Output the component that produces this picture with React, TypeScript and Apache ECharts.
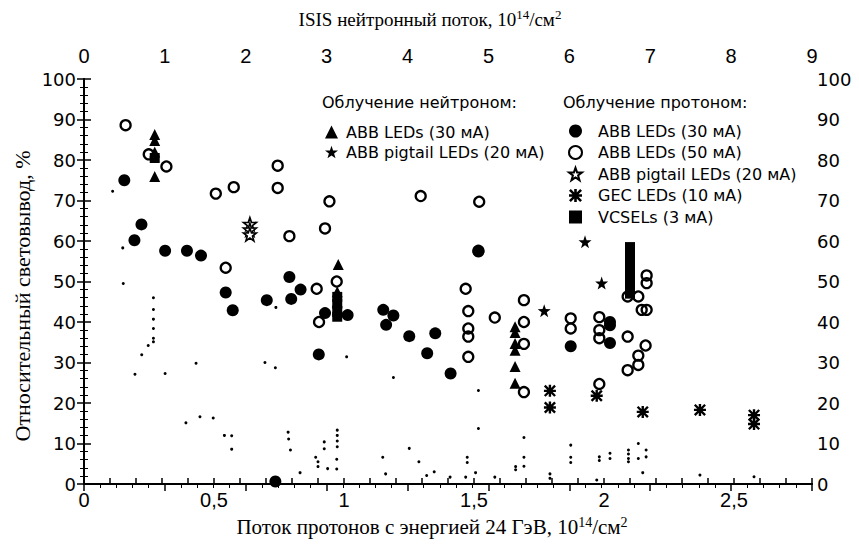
import React, { useEffect, useRef } from 'react';
import * as echarts from 'echarts';

// ---- Data (x: proton fluence 10^14/cm^2, y: relative light output %) ----
const neutronLed30: number[][] = [
  [0.272, 86.3], [0.272, 84.8], [0.272, 82.0], [0.272, 75.9], [0.978, 54.2],
  [0.974, 47.5], [0.974, 45.0], [0.974, 43.0], [1.658, 38.8], [1.658, 37.4],
  [1.658, 34.7], [1.658, 33.0], [1.658, 29.0], [1.658, 24.9],
];
const neutronPigtail20: number[][] = [[1.927, 59.8], [1.991, 49.6], [1.77, 42.8]];
const protonLed30: number[][] = [
  [0.155, 75.0], [0.221, 64.1], [0.194, 60.2], [0.312, 57.6], [0.396, 57.6],
  [0.45, 56.4], [0.545, 47.3], [0.572, 42.9], [0.703, 45.4], [0.79, 51.1],
  [0.797, 45.7], [0.833, 48.0], [0.927, 42.2], [0.903, 32.0], [1.014, 41.7],
  [1.151, 43.0], [1.19, 41.6], [1.162, 39.3], [1.251, 36.5], [1.351, 37.2],
  [1.32, 32.3], [1.41, 27.3], [1.517, 57.4], [1.872, 34.0], [2.023, 40.0],
  [2.023, 39.2], [2.023, 34.8], [0.736, 0.6],
];
const protonLed50: number[][] = [
  [0.16, 88.6], [0.249, 81.4], [0.317, 78.4], [0.507, 71.7], [0.576, 73.3],
  [0.745, 78.6], [0.745, 73.1], [0.944, 69.8], [0.927, 63.1], [0.79, 61.2],
  [0.545, 53.4], [0.895, 48.2], [0.904, 40.0], [0.972, 50.0], [1.295, 71.1],
  [1.52, 69.7], [1.517, 57.6], [1.468, 48.2], [1.478, 42.7], [1.478, 38.4],
  [1.478, 36.4], [1.478, 31.4], [1.58, 41.1], [1.692, 45.4], [1.692, 40.0],
  [1.692, 34.6], [1.692, 22.7], [1.872, 40.9], [1.872, 38.4], [1.982, 41.2],
  [1.982, 38.0], [1.982, 36.0], [1.982, 24.7], [2.091, 46.3], [2.091, 36.4],
  [2.091, 28.1], [2.132, 46.3], [2.132, 31.7], [2.132, 29.4], [2.145, 43.0],
  [2.164, 43.0], [2.164, 51.5], [2.164, 49.6], [2.16, 34.2],
];
const protonPigtail20: number[][] = [[0.638, 64.2], [0.638, 62.8], [0.638, 61.6]];
const gecLed10: number[][] = [
  [1.792, 23.0], [1.792, 18.9], [1.972, 21.8], [2.149, 17.8], [2.369, 18.3],
  [2.577, 17.0], [2.577, 14.8],
];
const vcsel3: number[][] = [
  [2.1, 58.5], [2.1, 57.5], [2.1, 56.5], [2.1, 55.5], [2.1, 54.5], [2.1, 53.5],
  [2.1, 52.5], [2.1, 51.5], [2.1, 50.5], [2.1, 48.7], [2.1, 47.7], [2.1, 47.0],
  [0.974, 46.2], [0.974, 44.5], [0.974, 42.5], [0.974, 41.3], [0.272, 80.5],
];
const smallDots: number[][] = [
  [0.11, 72.3], [0.149, 58.3], [0.151, 49.5], [0.267, 46.0], [0.267, 43.1],
  [0.267, 40.7], [0.267, 38.4], [0.267, 36.0], [0.267, 35.1], [0.247, 34.2],
  [0.222, 31.9], [0.196, 27.1], [0.312, 27.3], [0.431, 29.8], [0.738, 43.6],
  [0.696, 30.0], [0.736, 28.7], [1.01, 31.4], [1.19, 26.3], [1.517, 23.1],
  [1.517, 13.7], [0.392, 15.1], [0.446, 16.6], [0.497, 16.3], [0.54, 12.0],
  [0.568, 11.9], [0.568, 8.6], [0.785, 12.8], [0.787, 11.1], [0.794, 8.4],
  [0.831, 2.8], [0.891, 6.6], [0.9, 5.5], [0.9, 4.3], [0.924, 10.4],
  [0.924, 8.7], [0.937, 3.8], [0.974, 13.3], [0.974, 12.0], [0.974, 10.6],
  [0.974, 9.2], [0.972, 6.1], [0.972, 3.7], [1.149, 6.6], [1.16, 2.5],
  [1.251, 8.8], [1.288, 5.5], [1.318, 2.1], [1.347, 3.0], [1.408, 1.7],
  [1.468, 1.7], [1.474, 6.6], [1.474, 5.3], [1.506, 2.8], [1.58, 1.7],
  [1.66, 4.3], [1.66, 3.5], [1.692, 6.6], [1.692, 4.4], [1.692, 11.5],
  [1.792, 2.5], [1.792, 1.4], [1.872, 9.6], [1.872, 6.6], [1.872, 5.3],
  [1.972, 1.0], [1.982, 6.7], [1.982, 5.8], [2.023, 7.6], [2.023, 6.3],
  [2.094, 8.4], [2.094, 7.4], [2.094, 6.3], [2.094, 5.5], [2.132, 10.0],
  [2.132, 6.3], [2.162, 8.4], [2.162, 6.7], [2.149, 2.8], [2.369, 2.2],
  [2.577, 1.8],
];

const titleBottom = 'Поток протонов с энергией 24 ГэВ, 10{sup|14}/см{sup|2}';
const titleTop = 'ISIS нейтронный поток, 10{sup|14}/см{sup|2}';
const titleLeft = 'Относительный световывод, %';
const headerNeutron = 'Облучение нейтроном:';
const headerProton = 'Облучение протоном:';

const legendNames: Record<string, string> = {
  n1: 'ABB LEDs (30 мА)',
  n2: 'ABB pigtail LEDs (20 мА)',
  p1: 'ABB LEDs (30 мА)',
  p2: 'ABB LEDs (50 мА)',
  p3: 'ABB pigtail LEDs (20 мА)',
  p4: 'GEC LEDs (10 мА)',
  p5: 'VCSELs (3 мА)',
};

const STAR =
  'path://M10,0 L12.35,6.76 L19.51,6.91 L13.8,11.24 L15.88,18.09 L10,14 L4.12,18.09 L6.2,11.24 L0.49,6.91 L7.65,6.76 Z';
const ASTER =
  'path://M0,4 L10,4 L10,6 L0,6 Z M4,0 L6,0 L6,10 L4,10 Z M1.4,0 L10,8.6 L8.6,10 L0,1.4 Z M8.6,0 L10,1.4 L1.4,10 L0,8.6 Z';

const serifFam = 'Liberation Serif, Times New Roman, serif';
const sans = 'DejaVu Sans, sans-serif';
const narrow = 'Liberation Sans Narrow, Liberation Sans, Arial, sans-serif';

const supStyle = (size: number) => ({
  sup: { fontSize: size, fontFamily: serifFam, fill: '#000', verticalAlign: 'top', lineHeight: 10 },
});

export default function App() {
  const ref = useRef<HTMLDivElement>(null);
  useEffect(() => {
    const chart = echarts.init(ref.current!, null, { renderer: 'svg' });
    const axisLine = { show: true, lineStyle: { color: '#000', width: 2 } };
    const solid = (extra: any = {}) => ({ color: '#000', opacity: 1, ...extra });
    const option: any = {
      animation: false,
      backgroundColor: '#fff',
      grid: { left: 84, right: 47, top: 79, bottom: 72, containLabel: false },
      xAxis: [
        {
          type: 'value', position: 'bottom', min: 0, max: 2.8, interval: 0.1,
          axisLine, splitLine: { show: false },
          axisTick: { show: true, inside: true, length: 6, lineStyle: { color: '#000', width: 1.5 } },
          axisLabel: {
            color: '#000', fontFamily: narrow, fontSize: 20, margin: 6,
            formatter: (v: number) => {
              const r = Math.round(v * 10) / 10;
              if (Math.abs(r * 2 - Math.round(r * 2)) > 1e-6) return '';
              return String(r).replace('.', ',');
            },
          },
        },
        {
          type: 'value', position: 'top', min: 0, max: 9, interval: 1,
          axisLine, splitLine: { show: false },
          axisTick: { show: true, inside: true, length: 7, lineStyle: { color: '#000', width: 1.5 } },
          minorTick: { show: true, splitNumber: 5, length: 4, lineStyle: { color: '#000', width: 1 } },
          axisLabel: { color: '#000', fontFamily: narrow, fontSize: 20, margin: 13 },
        },
      ],
      yAxis: [
        {
          type: 'value', position: 'left', min: 0, max: 100, interval: 10,
          axisLine, splitLine: { show: false },
          axisTick: { show: true, inside: true, length: 7, lineStyle: { color: '#000', width: 1.5 } },
          minorTick: { show: true, splitNumber: 5, length: 4, lineStyle: { color: '#000', width: 1 } },
          axisLabel: { color: '#000', fontFamily: sans, fontSize: 18, margin: 8 },
        },
        {
          type: 'value', position: 'right', min: 0, max: 100, interval: 10,
          axisLine, splitLine: { show: false },
          axisTick: { show: true, inside: true, length: 7, lineStyle: { color: '#000', width: 1.5 } },
          minorTick: { show: true, splitNumber: 5, length: 4, lineStyle: { color: '#000', width: 1 } },
          axisLabel: { color: '#000', fontFamily: sans, fontSize: 18, margin: 5 },
        },
      ],
      legend: [
        {
          orient: 'vertical', left: 320, top: 118, itemGap: 2, itemWidth: 13, itemHeight: 13,
          data: ['n1', 'n2'],
          formatter: (n: string) => legendNames[n],
          textStyle: { color: '#000', fontFamily: sans, fontSize: 16, lineHeight: 18, padding: [0, 0, 0, 3] },
          selectedMode: false,
        },
        {
          orient: 'vertical', left: 563, top: 117, itemGap: 3.5, itemWidth: 13, itemHeight: 13,
          data: ['p1', 'p2', 'p3', 'p4', 'p5'],
          formatter: (n: string) => legendNames[n],
          textStyle: { color: '#000', fontFamily: sans, fontSize: 16, lineHeight: 18, padding: [0, 0, 0, 11] },
          selectedMode: false,
        },
      ],
      graphic: [
        { type: 'text', left: 322, top: 94, style: { text: headerNeutron, fill: '#000', font: '16px DejaVu Sans' } },
        { type: 'text', left: 563, top: 94, style: { text: headerProton, fill: '#000', font: '16px DejaVu Sans' } },
        {
          type: 'text', x: 432, y: 527,
          style: {
            text: titleBottom, fill: '#000', fontFamily: serifFam, fontSize: 21, lineHeight: 24,
            align: 'center', verticalAlign: 'middle', rich: supStyle(14),
          },
        },
        {
          type: 'text', x: 430, y: 19,
          style: {
            text: titleTop, fill: '#000', fontFamily: serifFam, fontSize: 19, lineHeight: 22,
            align: 'center', verticalAlign: 'middle', rich: supStyle(13),
          },
        },
        {
          type: 'text', x: 22, y: 296, rotation: Math.PI / 2,
          style: {
            text: titleLeft, fill: '#000', fontFamily: serifFam, fontSize: 22,
            align: 'center', verticalAlign: 'middle',
          },
        },
      ],
      series: [
        {
          name: 'dots', type: 'scatter', data: smallDots, symbol: 'circle', symbolSize: 3,
          itemStyle: solid(), silent: true,
        },
        {
          name: 'p1', type: 'scatter', data: protonLed30, symbol: 'circle', symbolSize: 12,
          itemStyle: solid(),
        },
        {
          name: 'p2', type: 'scatter', data: protonLed50, symbol: 'circle', symbolSize: 10,
          itemStyle: { color: 'rgba(255,255,255,0)', borderColor: '#000', borderWidth: 2.3, opacity: 1 },
        },
        {
          name: 'n1', type: 'scatter', data: neutronLed30, symbol: 'triangle', symbolSize: 11,
          itemStyle: solid(),
        },
        {
          name: 'n2', type: 'scatter', data: neutronPigtail20, symbol: STAR, symbolSize: 13,
          itemStyle: solid(),
        },
        {
          name: 'p3', type: 'scatter', data: protonPigtail20, symbol: STAR, symbolSize: 13,
          itemStyle: { color: '#fff', borderColor: '#000', borderWidth: 1.6, opacity: 1 },
        },
        {
          name: 'p4', type: 'scatter', data: gecLed10, symbol: ASTER, symbolSize: 12,
          itemStyle: solid(),
        },
        {
          name: 'p5', type: 'scatter', data: vcsel3, symbol: 'rect', symbolSize: 10,
          itemStyle: solid(),
        },
      ],
    };
    chart.setOption(option);
    return () => chart.dispose();
  }, []);
  return (
    <div
      ref={ref}
      style={{ position: 'absolute', left: 0, top: 0, width: 859, height: 556, background: '#fff' }}
    />
  );
}
